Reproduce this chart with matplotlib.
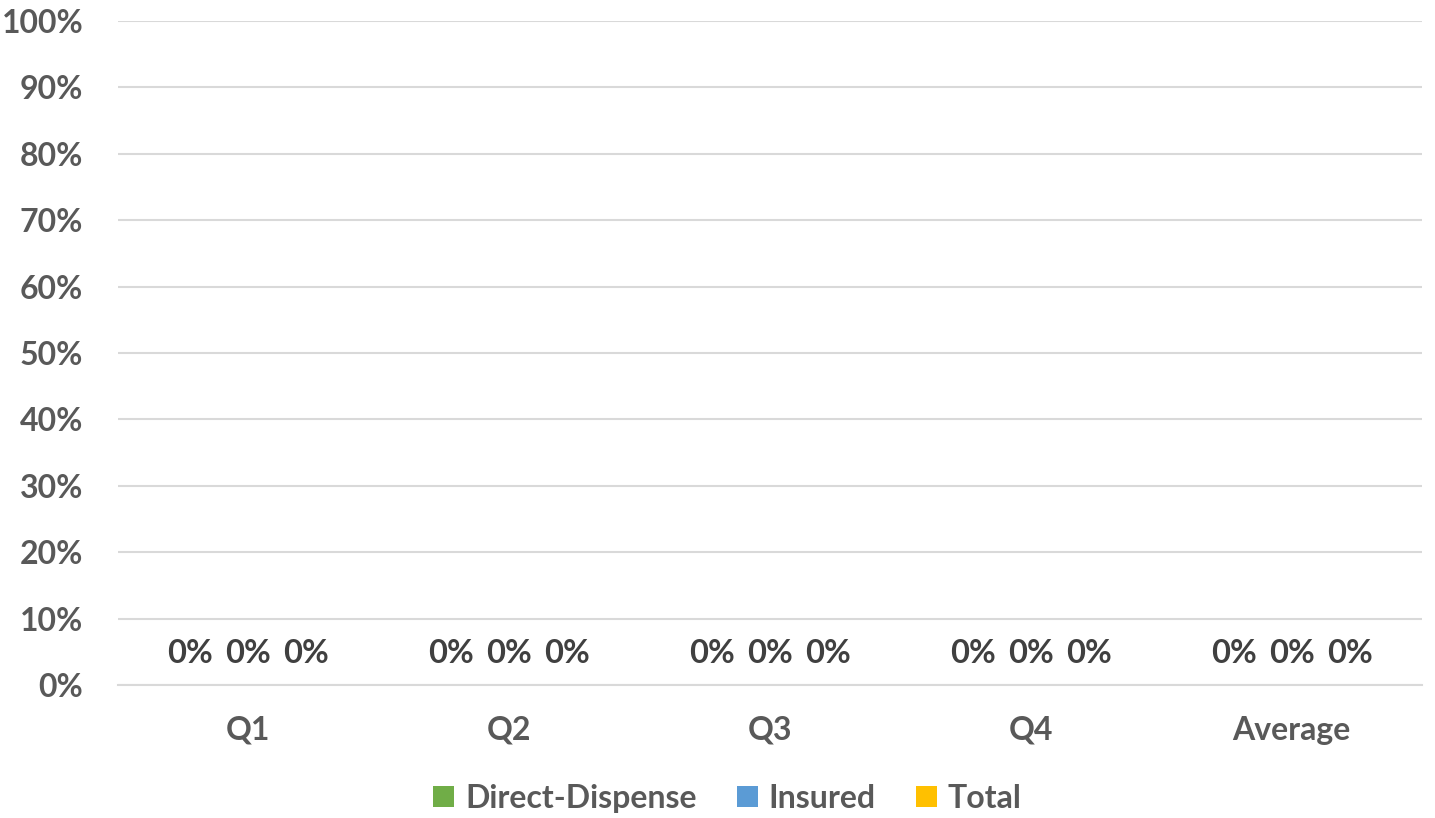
import matplotlib.pyplot as plt
import numpy as np
from matplotlib.patches import Patch

plt.rcParams["font.family"] = ["Lato", "DejaVu Sans"]
plt.rcParams["font.weight"] = "bold"

categories = ["Q1", "Q2", "Q3", "Q4", "Average"]
series_names = ["Direct-Dispense", "Insured", "Total"]
direct_dispense = [0.0, 0.0, 0.0, 0.0, 0.0]
insured = [0.0, 0.0, 0.0, 0.0, 0.0]
total = [0.0, 0.0, 0.0, 0.0, 0.0]
y_ticks = [0, 10, 20, 30, 40, 50, 60, 70, 80, 90, 100]

colors = ["#70AD47", "#5B9BD5", "#FFC000"]
text_color = "#595959"

fig = plt.figure(figsize=(14.35, 8.18), dpi=100)
ax = fig.add_axes([0.0822, 0.1626, 0.9088, 0.8117])

x = np.arange(len(categories))
width = 0.222
for i, (vals, name, col) in enumerate(zip([direct_dispense, insured, total], series_names, colors)):
    pos = x + (i - 1) * width
    bars = ax.bar(pos, vals, width=width, color=col, label=name)
    for b, v in zip(bars, vals):
        ax.annotate(f"{v:.0%}", (b.get_x() + b.get_width() / 2, v), xytext=(0, 12),
                    textcoords="offset points", ha="center", va="bottom",
                    fontsize=23.5, fontweight="bold", color="#404040")

ax.set_xlim(-0.5, len(categories) - 0.5)
ax.set_ylim(0, 1.0)
ax.set_yticks([t / 100 for t in y_ticks])
ax.set_yticklabels([f"{t}%" for t in y_ticks])
ax.set_xticks(x)
ax.set_xticklabels(categories)
ax.tick_params(axis="both", length=0, labelsize=23, colors=text_color)
ax.tick_params(axis="y", pad=25)
ax.tick_params(axis="x", pad=22)
for lbl in ax.get_xticklabels() + ax.get_yticklabels():
    lbl.set_fontweight("bold")
ax.grid(axis="y", color="#D9D9D9", lw=1.5)
ax.set_axisbelow(True)
for s in ["top", "right", "left"]:
    ax.spines[s].set_visible(False)
ax.spines["bottom"].set_color("#D9D9D9")
ax.spines["bottom"].set_linewidth(1.5)

handles = [Patch(facecolor=c, label=n) for c, n in zip(colors, series_names)]
leg = fig.legend(handles=handles, loc="center", bbox_to_anchor=(0.507, 0.024), ncol=3,
                 frameon=False, fontsize=23, handlelength=0.65, handleheight=0.65,
                 handletextpad=0.35, columnspacing=1.25)
for t in leg.get_texts():
    t.set_color(text_color)
    t.set_fontweight("bold")

fig.savefig("out.png", dpi=100)
